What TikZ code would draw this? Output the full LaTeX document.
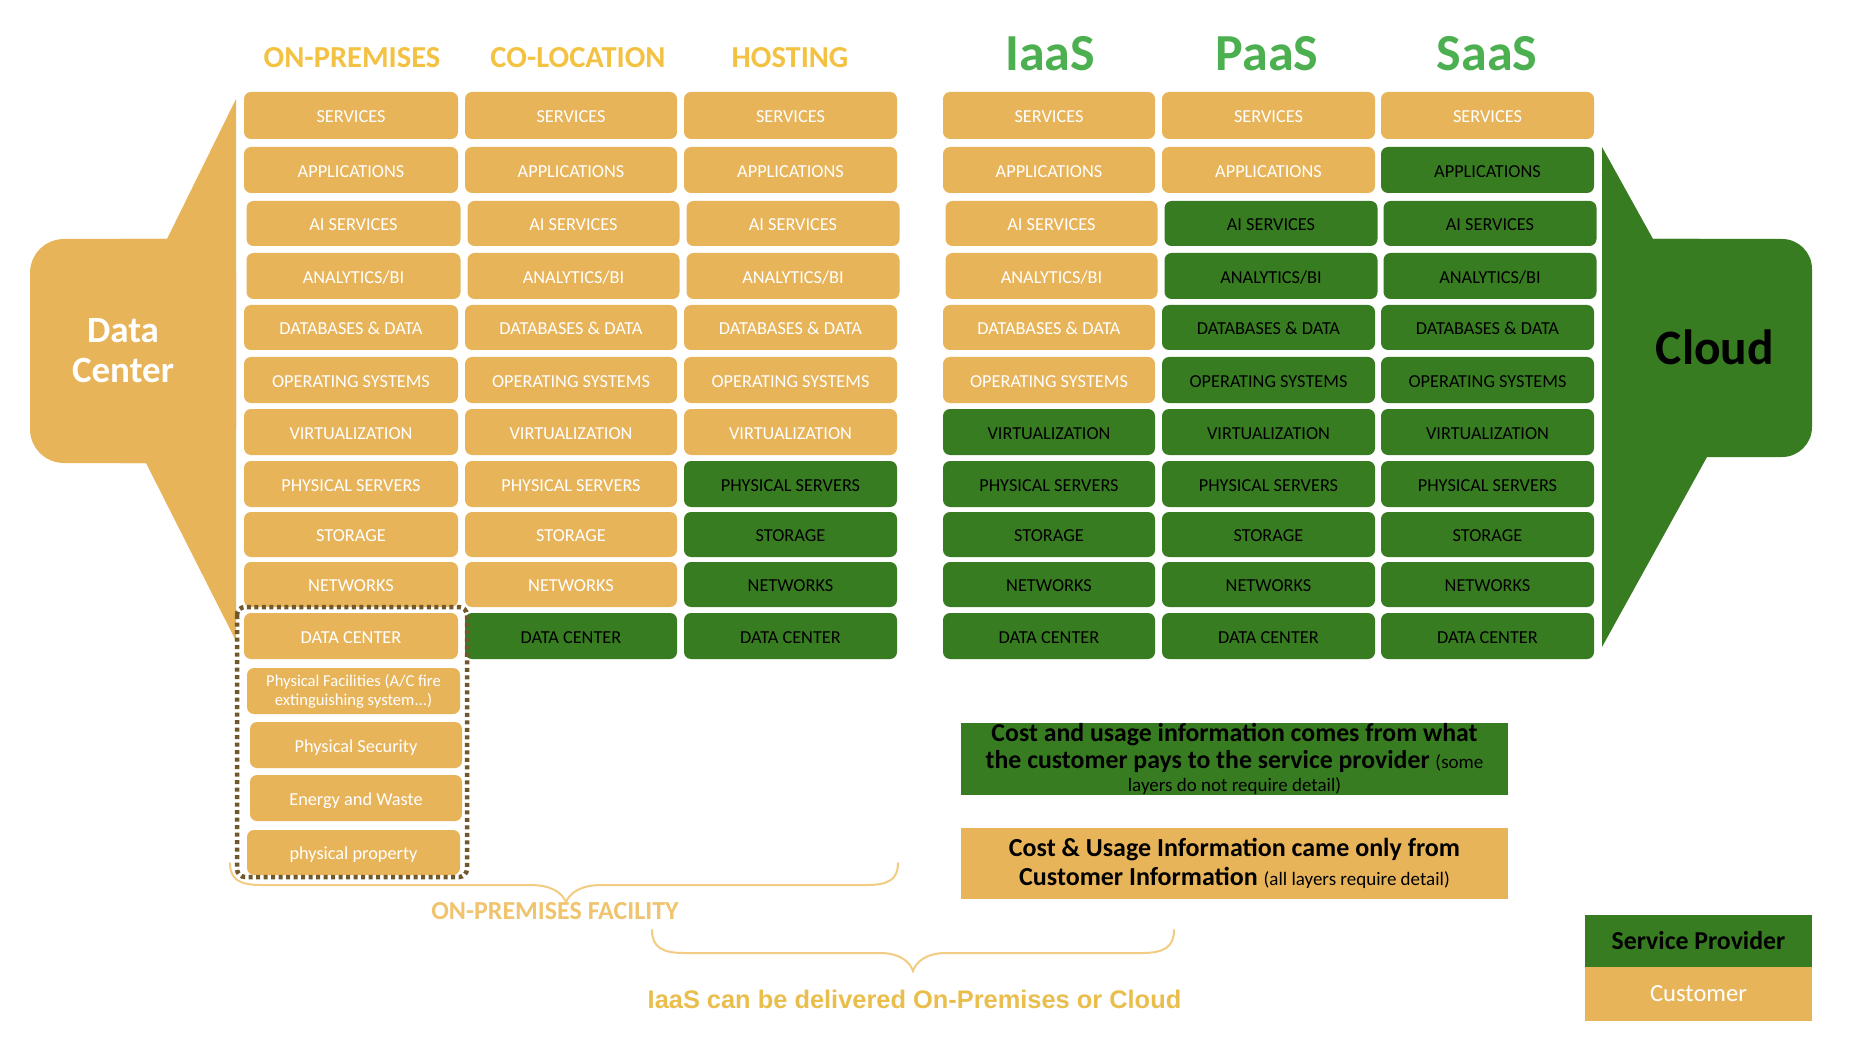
\documentclass[tikz,border=0pt]{standalone}
\usepackage{fontspec}
\setmainfont{Carlito}
\newfontfamily\arialfont{Liberation Sans}
\definecolor{goldc}{RGB}{232,180,90}
\definecolor{greenc}{RGB}{56,124,34}
\definecolor{hdrgold}{RGB}{244,194,66}
\definecolor{hdrgreen}{RGB}{76,175,80}
\definecolor{bracec}{RGB}{242,204,130}
\definecolor{facil}{RGB}{240,196,110}
\definecolor{iaastext}{RGB}{234,190,76}
\definecolor{dotbrown}{RGB}{112,88,44}
\tikzset{
  cellbase/.style={rectangle, rounded corners=7pt, inner sep=0pt,
    font=\fontsize{18.3}{22}\selectfont, text height=14.8pt, text depth=0pt},
  goldcell/.style={cellbase, fill=goldc, text=white},
  greencell/.style={cellbase, fill=greenc, text=black},
  extracell/.style={rectangle, rounded corners=7pt, inner sep=0pt, fill=goldc,
    text=white, align=center},
  extraone/.style={extracell, font=\fontsize{18.3}{20}\selectfont,
    text height=14.8pt, text depth=0pt},
  hdrleft/.style={font=\fontsize{30.5}{32}\selectfont\bfseries, text=hdrgold, inner sep=0pt},
  hdrright/.style={font=\fontsize{52}{54}\selectfont\bfseries, text=hdrgreen, inner sep=0pt},
  bracepath/.style={draw=bracec, line width=2pt, line cap=round},
  infobox/.style={rectangle, inner sep=0pt, align=center, text=black,
    minimum width=547pt, minimum height=72pt},
  legendbox/.style={rectangle, inner sep=0pt, minimum width=227pt},
}
\begin{document}
\begin{tikzpicture}[x=1pt,y=-1pt]
\useasboundingbox[fill=white] (0,0) rectangle (1852,1048);

% ---- Data Center callout (left)
\fill[goldc, rounded corners=34pt] (30,239) rectangle (236,463);
\fill[goldc] (236,99) -- (167,239) -- (120,239) -- (120,463) -- (146,463) -- (236,641) -- cycle;
\node[font=\fontsize{37}{40}\selectfont\bfseries, text=white, align=center, inner sep=0pt]
  (dclabel) at (123,351) {Data\\Center};

% ---- Cloud callout (right)
\fill[greenc, rounded corners=30pt] (1602,239) rectangle (1812,457);
\fill[greenc] (1602,147) -- (1653,239) -- (1700,239) -- (1700,457) -- (1707,457) -- (1602,647) -- cycle;
\node[font=\fontsize{49.5}{52}\selectfont\bfseries, text=black, inner sep=0pt]
  (cloudlabel) at (1715,347) {Cloud};

% ---- Column headers
\node[hdrleft] (h1) at (352,57.5) {ON-PREMISES};
\node[hdrleft] (h2) at (578,57.5) {CO-LOCATION};
\node[hdrleft] (h3) at (790,57.5) {HOSTING};
\node[hdrright] (h4) at (1050,53.5) {IaaS};
\node[hdrright] (h5) at (1267,53.5) {PaaS};
\node[hdrright] (h6) at (1487,53.5) {SaaS};

% ---- Layer cells
\foreach \c/\cl/\cr/\g in {1/244/458/12,2/465/677/11,3/684/897/8,4/943/1155/7,5/1162/1375/3,6/1381/1594/2}{
  \foreach \r/\rt/\rb/\sh/\lab in {
      1/92/139/0/{SERVICES},
      2/147/193/0/{APPLICATIONS},
      3/201/246/2.5/{AI SERVICES},
      4/253/299/2.5/{ANALYTICS/BI},
      5/305/350/0/{DATABASES \& DATA},
      6/357/403/0/{OPERATING SYSTEMS},
      7/409/455/0/{VIRTUALIZATION},
      8/461/507/0/{PHYSICAL SERVERS},
      9/512/557/0/{STORAGE},
      10/562/607/0/{NETWORKS},
      11/613/659/0/{DATA CENTER}}{
    \ifnum\r<\g \tikzset{cur/.style=goldcell}\else\tikzset{cur/.style=greencell}\fi
    \node[cur, minimum width={(\cr-\cl)*1pt}, minimum height={(\rb-\rt)*1pt}]
      (c\c r\r) at ({(\cl+\cr)/2+\sh},{(\rt+\rb)/2}) {\lab};
  }
}

% ---- Extra on-premises facility cells
\node[extracell, minimum width=213pt, minimum height=46pt, font=\fontsize{16.6}{19}\selectfont]
  (ex1) at (353.5,691) {Physical Facilities (A/C fire\\extinguishing system...)};
\node[extraone, minimum width=212pt, minimum height=46pt]
  (ex2) at (356,745) {Physical Security};
\node[extraone, minimum width=212pt, minimum height=46pt]
  (ex3) at (356,798) {Energy and Waste};
\node[extraone, minimum width=213pt, minimum height=45pt]
  (ex4) at (353.5,852.5) {physical property};

% ---- Dotted frame
\draw[dotbrown, line width=4.5pt, dash pattern=on 4pt off 3.5pt, rounded corners=8pt]
  (237,607) rectangle (467,877);

% ---- Braces
\draw[bracepath] (230,863) .. controls (230,880) and (240,885) .. (262,885) -- (530,885)
  .. controls (552,885) and (562,893) .. (566,902)
  .. controls (570,893) and (580,885) .. (602,885) -- (866,885)
  .. controls (888,885) and (898,880) .. (898,863);
\node[font=\fontsize{26}{28}\selectfont\bfseries, text=facil, inner sep=0pt]
  (facility) at (555,911) {ON-PREMISES FACILITY};

\draw[bracepath] (652,930) .. controls (652,947) and (662,953) .. (684,953) -- (880,953)
  .. controls (900,953) and (910,962) .. (913,971)
  .. controls (916,962) and (926,953) .. (946,953) -- (1142,953)
  .. controls (1164,953) and (1174,947) .. (1174,930);
\node[font=\arialfont\bfseries\fontsize{25.4}{28}\selectfont, text=iaastext, inner sep=0pt]
  (iaasnote) at (914.5,999) {IaaS can be delivered On-Premises or Cloud};

% ---- Information boxes
\node[infobox, fill=greenc, font=\fontsize{25.8}{27}\selectfont\bfseries]
  (greeninfo) at (1234.5,758.75) {Cost and usage information comes from what\\
  the customer pays to the service provider {\mdseries\fontsize{19}{27}\selectfont (some}\\[-3.5pt]
  {\mdseries\fontsize{19}{27}\selectfont layers do not require detail)}};
\node[infobox, fill=goldc, minimum height=71pt, font=\fontsize{26}{29}\selectfont\bfseries]
  (goldinfo) at (1234.5,863.5) {Cost \& Usage Information came only from\\
  Customer Information {\mdseries\fontsize{19}{29}\selectfont (all layers require detail)}};

% ---- Legend
\node[legendbox, fill=greenc, minimum height=52pt, text=black,
  font=\fontsize{25.8}{28}\selectfont\bfseries] (legsp) at (1698.5,941) {Service Provider};
\node[legendbox, fill=goldc, minimum height=54pt, text=white,
  font=\fontsize{24.6}{27}\selectfont] (legcu) at (1698.5,994) {Customer};
\end{tikzpicture}
\end{document}
